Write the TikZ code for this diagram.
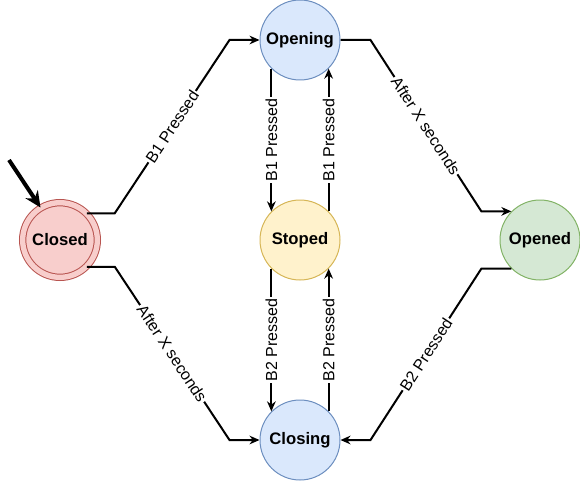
\documentclass[tikz,border=0pt]{standalone}
\usepackage{fontspec}
\setmainfont{Liberation Sans}
\usetikzlibrary{arrows.meta,calc}
\definecolor{redfill}{HTML}{F8CECC}
\definecolor{redline}{HTML}{B85450}
\definecolor{bluefill}{HTML}{DAE8FC}
\definecolor{blueline}{HTML}{6C8EBF}
\definecolor{yellowfill}{HTML}{FFF2CC}
\definecolor{yellowline}{HTML}{D6B656}
\definecolor{greenfill}{HTML}{D5E8D4}
\definecolor{greenline}{HTML}{82B366}
\begin{document}
\begin{tikzpicture}[x=0.75pt,y=-0.75pt,
  every node/.style={font=\fontsize{12}{14}\selectfont},
  state/.style={circle,draw,line width=0.75pt,minimum size=60pt,inner sep=0pt,font=\fontsize{12.5}{14}\selectfont\bfseries},
  trans/.style={line width=1.5pt,-{Stealth[length=7.5pt,width=6.5pt]}},
  lbl/.style={fill=white,inner sep=1pt}]
\useasboundingbox (0,0) rectangle (580,481);
% States
\node[state,fill=redfill,draw=redline,double=redfill,double distance=4pt,minimum size=56pt] (closed) at (60,240) {Closed};
\node[state,fill=bluefill,draw=blueline] (opening) at (300,40) {Opening};
\node[state,fill=yellowfill,draw=yellowline] (stoped) at (300,240) {Stoped};
\node[state,fill=greenfill,draw=greenline] (opened) at (540,240) {Opened};
\node[state,fill=bluefill,draw=blueline] (closing) at (300,440) {Closing};
% Initial arrow
\coordinate (init) at (9,160);
\draw[line width=3pt,-{Stealth[length=12pt,width=11pt]}] (init) -- (closed.121);
% Closed -> Opening / Closing
\draw[trans] (closed.45) -- ++(28,0) -- node[lbl,sloped] {B1 Pressed} ($(opening.west)+(-30,0)$) -- (opening.west);
\draw[trans] (closed.-45) -- ++(28,0) -- node[lbl,sloped] {After X seconds} ($(closing.west)+(-30,0)$) -- (closing.west);
% Opening -> Opened, Opened -> Closing
\draw[trans] (opening.east) -- ++(30,0) -- node[lbl,sloped] {After X seconds} ($(opened.135)+(-30,0)$) -- (opened.135);
\draw[trans] (opened.-135) -- ++(-30,0) -- node[lbl,sloped] {B2 Pressed} ($(closing.east)+(30,0)$) -- (closing.east);
% Stoped
\draw[trans] (opening.-135) -- node[lbl,rotate=90] {B1 Pressed} (stoped.135);
\draw[trans] (stoped.45) -- node[lbl,rotate=90] {B1 Pressed} (opening.-45);
\draw[trans] (stoped.-135) -- node[lbl,rotate=90] {B2 Pressed} (closing.135);
\draw[trans] (closing.45) -- node[lbl,rotate=90] {B2 Pressed} (stoped.-45);
\end{tikzpicture}
\end{document}
